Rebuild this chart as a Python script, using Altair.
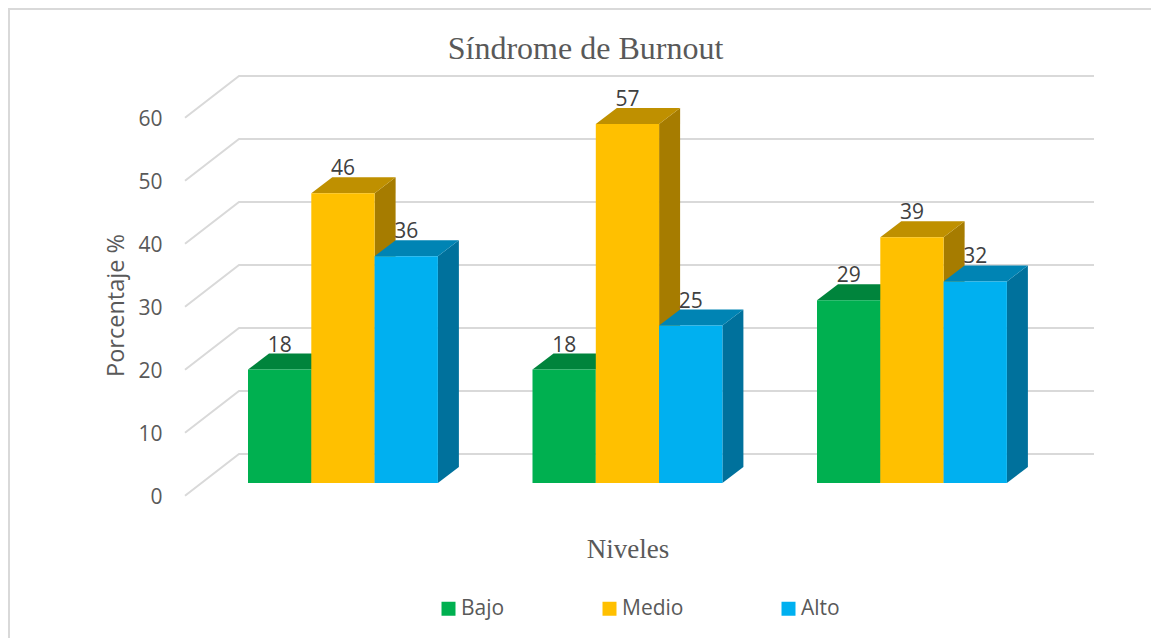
import altair as alt
import pandas as pd

TITLE = "Síndrome de Burnout"
LEVELS = ["Bajo", "Medio", "Alto"]
BAJO = [18, 18, 29]
MEDIO = [46, 57, 39]
ALTO = [36, 25, 32]
SERIES = [BAJO, MEDIO, ALTO]
TICKS = [0, 10, 20, 30, 40, 50, 60]
FRONT = ["#00B050", "#FFC000", "#00B0F0"]
TOP = ["#00843C", "#BF9000", "#0084B4"]
SIDE = ["#00723A", "#A67C00", "#00719C"]
GREY = "#595959"
GRID = "#D9D9D9"
SANS = "Open Sans"
SERIF = "Liberation Serif"

W, H = 1143, 630
PITCH = 284.5   # px between groups
UNIT = 6.3      # px per percent
X0 = 240.0      # chart px of first bar
Y0 = 475.0      # chart px of value 0
BAR = 63.3 / PITCH
DX = 21 / PITCH
DY = 16 / UNIT
x_dom = [-X0 / PITCH, (W - X0) / PITCH]
y_dom = [(Y0 - H) / UNIT, Y0 / UNIT]

x_scale = alt.Scale(domain=x_dom, range=[0, W], nice=False, zero=False)
y_scale = alt.Scale(domain=y_dom, range=[H, 0], nice=False, zero=False)

X = alt.X("x:Q", scale=x_scale, axis=alt.Axis(
    labels=False, ticks=False, domain=False, grid=False, title="Niveles",
    titleFont=SERIF, titleFontSize=27, titleFontWeight="normal", titleColor=GREY,
    titleX=619.5, titleY=-81, titleAnchor="middle", titleBaseline="alphabetic", orient="bottom"))
Y = alt.Y("y:Q", scale=y_scale, stack=None, axis=alt.Axis(
    values=TICKS, ticks=False, domain=False, grid=False, labelFont=SANS, labelFontSize=21,
    labelColor=GREY, labelOffset=14, offset=-154, labelPadding=0, title="Porcentaje %",
    titleFont=SANS, titleFontSize=23.5, titleFontWeight="normal", titleColor=GREY,
    titleX=-46, titleY=297, titleAngle=270, titleAnchor="middle", titleBaseline="middle"))

# Wall grid: front edge -> back corner -> back right end
fx, bx, ex = (177 - X0) / PITCH, (231 - X0) / PITCH, (1086 - X0) / PITCH
front_off, back_off = (Y0 - 487.7) / UNIT, (Y0 - 446) / UNIT
grid_rows = []
for t in TICKS:
    grid_rows += [{"x": fx, "y": t + front_off, "t": t}, {"x": bx, "y": t + back_off, "t": t},
                  {"x": ex, "y": t + back_off, "t": t}]
grid = alt.Chart(pd.DataFrame(grid_rows)).mark_line(color=GRID, strokeWidth=2).encode(
    x=X, y=Y, detail="t:N")

layers = [
    alt.Chart(pd.DataFrame({"a": [0]})).mark_rule(color=GRID, strokeWidth=2).encode(
        x=alt.value(1), y=alt.value(0), y2=alt.value(H)),
    alt.Chart(pd.DataFrame({"a": [0]})).mark_rule(color=GRID, strokeWidth=2).encode(
        x=alt.value(0), x2=alt.value(W), y=alt.value(1)),
    grid,
]

color = alt.Color("s:N", scale=alt.Scale(domain=LEVELS, range=FRONT), legend=alt.Legend(
    title=None, orient="none", direction="horizontal", columns=3, legendX=430, legendY=590,
    symbolType="square", symbolSize=196, symbolStrokeWidth=0, symbolOpacity=1,
    labelFont=SANS, labelFontSize=21, labelColor=GREY, labelOffset=2, columnPadding=94))

label_rows = []
for si, (name, vals) in enumerate(zip(LEVELS, SERIES)):
    side_rows, top_rows, front_rows = [], [], []
    for g, v in enumerate(vals):
        l = g + si * BAR
        r = l + BAR
        side_rows += [{"x": r, "y": v, "y2": 0, "g": g}, {"x": r + DX, "y": v + DY, "y2": DY, "g": g}]
        top_rows += [{"x": l, "x2": r, "y": v, "g": g}, {"x": l + DX, "x2": r + DX, "y": v + DY, "g": g}]
        front_rows.append({"x": l, "x2": r, "y": v, "y2": 0, "s": name})
        label_rows.append({"x": (l + r) / 2, "y": v + 24 / UNIT, "v": str(v)})
    layers.append(alt.Chart(pd.DataFrame(side_rows)).mark_area(color=SIDE[si], interpolate="linear").encode(
        x=X, y=Y, y2="y2:Q", detail="g:N"))
    layers.append(alt.Chart(pd.DataFrame(top_rows)).mark_area(color=TOP[si], orient="horizontal").encode(
        x=X, x2="x2:Q", y=Y, detail="g:N"))
    layers.append(alt.Chart(pd.DataFrame(front_rows)).mark_rect().encode(
        x=X, x2="x2:Q", y=Y, y2="y2:Q", color=color))

layers.append(alt.Chart(pd.DataFrame(label_rows)).mark_text(
    font=SANS, fontSize=21, color="#404040", baseline="middle", align="center").encode(x=X, y=Y, text="v:N"))

chart = alt.layer(*layers).properties(
    width=W, height=H, padding=0, autosize=alt.AutoSizeParams(type="none"),
    background="white",
    title=alt.TitleParams(TITLE, font=SERIF, fontSize=32, fontWeight="normal", color=GREY,
                          anchor="middle", frame="group", dx=6, offset=-84, baseline="alphabetic"),
).configure_view(stroke=None)

chart.save("out.html", embed_options={"renderer": "svg", "actions": False})
